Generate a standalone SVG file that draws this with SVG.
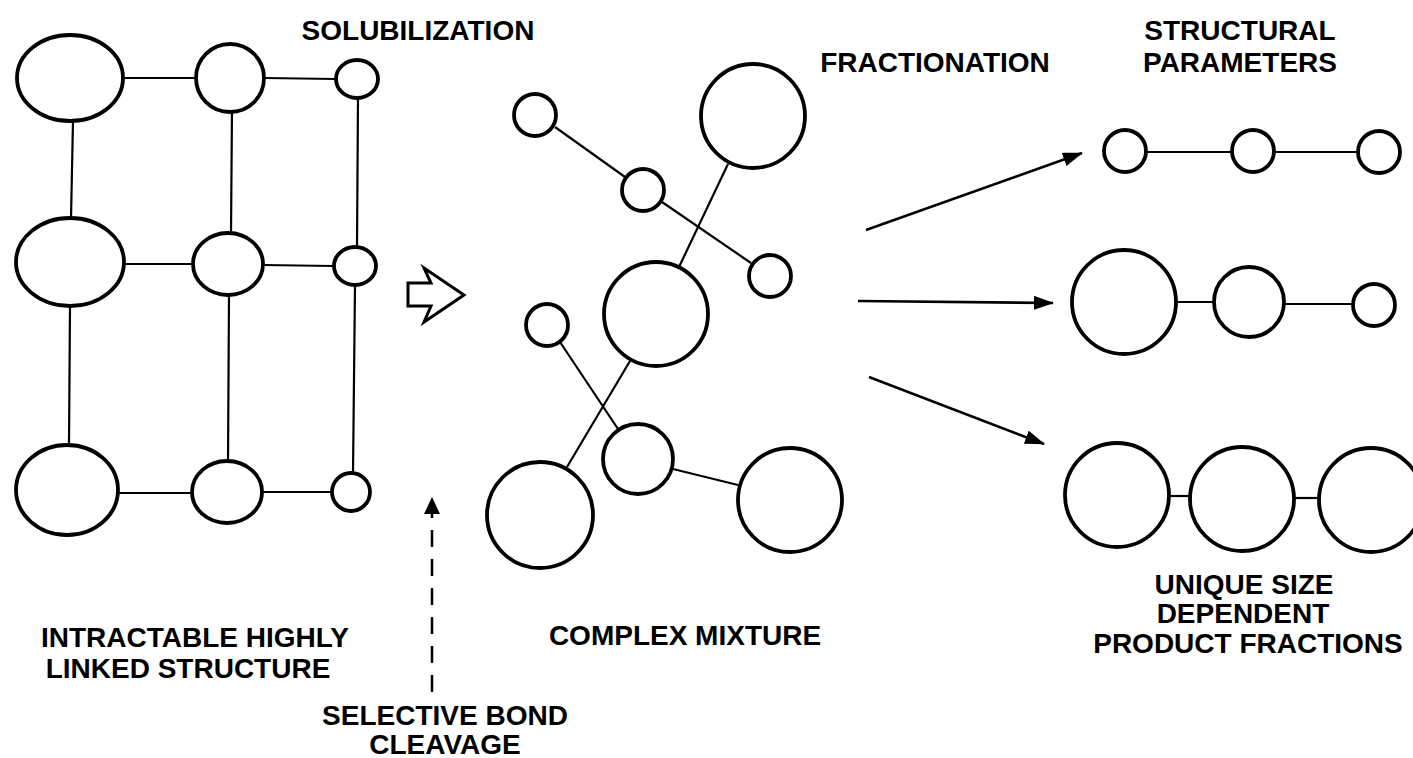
<svg xmlns="http://www.w3.org/2000/svg" width="1413" height="758" viewBox="0 0 1413 758">
  <style>
    .atom { fill: #fff; stroke: #000; stroke-width: 3.8; }
    .bond { stroke: #000; stroke-width: 2.2; fill: none; }
    .flow { stroke: #000; stroke-width: 2.6; fill: none; }
    .label { font-family: "Liberation Sans", Arial, sans-serif; font-weight: bold; font-size: 28px; fill: #000; text-anchor: middle; }
  </style>
  <defs>
    <marker id="head" viewBox="0 0 20 14" refX="19" refY="7" markerWidth="20" markerHeight="14" markerUnits="userSpaceOnUse" orient="auto">
      <path d="M0,0 L20,7 L0,14 Z" fill="#000"/>
    </marker>
  </defs>
  <rect width="1413" height="758" fill="#fff"/>

  <!-- bonds and process arrows -->
  <g id="connectors">
    <!-- linked network: rows -->
    <line class="bond" x1="123" y1="78" x2="195" y2="78"/>
    <line class="bond" x1="265" y1="78" x2="335" y2="79"/>
    <line class="bond" x1="124" y1="264" x2="193" y2="264"/>
    <line class="bond" x1="263" y1="265" x2="333" y2="266"/>
    <line class="bond" x1="118" y1="493" x2="192" y2="493"/>
    <line class="bond" x1="262" y1="492" x2="332" y2="492"/>
    <!-- linked network: columns -->
    <line class="bond" x1="73" y1="121" x2="71" y2="218"/>
    <line class="bond" x1="70" y1="306" x2="69" y2="445"/>
    <line class="bond" x1="232" y1="108" x2="231" y2="233"/>
    <line class="bond" x1="229" y1="295" x2="228" y2="462"/>
    <line class="bond" x1="358" y1="97" x2="357" y2="247"/>
    <line class="bond" x1="355" y1="285" x2="353" y2="473"/>

    <!-- mixture fragments -->
    <line class="bond" x1="555" y1="127" x2="625" y2="177"/>
    <line class="bond" x1="662" y1="202" x2="751" y2="263"/>
    <line class="bond" x1="728" y1="164" x2="679" y2="267"/>
    <line class="bond" x1="630" y1="361" x2="567" y2="467"/>
    <line class="bond" x1="560" y1="342" x2="618" y2="429"/>
    <line class="bond" x1="673" y1="469" x2="738" y2="485"/>

    <!-- product fractions -->
    <line class="bond" x1="1147" y1="152" x2="1232" y2="152"/>
    <line class="bond" x1="1274" y1="152" x2="1358" y2="152"/>
    <line class="bond" x1="1177" y1="302" x2="1214" y2="302"/>
    <line class="bond" x1="1284" y1="304" x2="1353" y2="304"/>
    <line class="bond" x1="1169" y1="496" x2="1190" y2="496"/>
    <line class="bond" x1="1294" y1="498" x2="1319" y2="498"/>

    <!-- fractionation arrows -->
    <line class="flow" x1="866" y1="230" x2="1082" y2="153" marker-end="url(#head)"/>
    <line class="flow" x1="858" y1="301" x2="1053" y2="303" marker-end="url(#head)"/>
    <line class="flow" x1="869" y1="377" x2="1044" y2="444" marker-end="url(#head)"/>

    <!-- solubilization arrow (hollow) -->
    <path d="M408,283 L431,283 L424,268 L464,295 L424,322 L431,306 L408,306 Z" fill="#fff" stroke="#000" stroke-width="3" stroke-linejoin="miter"/>

    <!-- selective bond cleavage pointer (dashed) -->
    <line x1="432" y1="692" x2="432" y2="512" stroke="#000" stroke-width="2.5" stroke-dasharray="17 12"/>
    <path d="M424,514 L432,497 L440,514 Z" fill="#000"/>
  </g>

  <!-- intractable highly linked structure -->
  <g id="network">
    <ellipse class="atom" cx="70" cy="78" rx="53" ry="43"/>
    <circle class="atom" cx="230" cy="78" r="34"/>
    <ellipse class="atom" cx="357" cy="79" rx="21" ry="19"/>
    <ellipse class="atom" cx="70" cy="262" rx="54" ry="44"/>
    <ellipse class="atom" cx="228" cy="264" rx="35" ry="31"/>
    <ellipse class="atom" cx="355" cy="266" rx="21" ry="19"/>
    <ellipse class="atom" cx="67" cy="490" rx="51" ry="45"/>
    <ellipse class="atom" cx="227" cy="492" rx="35" ry="31"/>
    <circle class="atom" cx="351" cy="492" r="19"/>
  </g>

  <!-- complex mixture -->
  <g id="mixture">
    <circle class="atom" cx="535" cy="115" r="21"/>
    <circle class="atom" cx="643" cy="190" r="21"/>
    <circle class="atom" cx="753" cy="116" r="52"/>
    <circle class="atom" cx="770" cy="276" r="21"/>
    <circle class="atom" cx="656" cy="314" r="52"/>
    <circle class="atom" cx="547" cy="325" r="21"/>
    <circle class="atom" cx="638" cy="459" r="35"/>
    <circle class="atom" cx="540" cy="515" r="53"/>
    <circle class="atom" cx="790" cy="500" r="52"/>
  </g>

  <!-- size dependent fractions -->
  <g id="fraction-small">
    <circle class="atom" cx="1125" cy="151" r="21"/>
    <circle class="atom" cx="1253" cy="151" r="21"/>
    <circle class="atom" cx="1379" cy="152" r="21"/>
  </g>
  <g id="fraction-mixed">
    <circle class="atom" cx="1124" cy="302" r="52"/>
    <circle class="atom" cx="1249" cy="302" r="35"/>
    <circle class="atom" cx="1374" cy="305" r="21"/>
  </g>
  <g id="fraction-large">
    <circle class="atom" cx="1117" cy="495" r="52"/>
    <circle class="atom" cx="1242" cy="499" r="52"/>
    <circle class="atom" cx="1371" cy="500" r="52"/>
  </g>

  <!-- labels -->
  <g id="labels">
    <text class="label" x="418" y="40">SOLUBILIZATION</text>
    <text class="label" x="935" y="72">FRACTIONATION</text>
    <text class="label" x="1240" y="40">STRUCTURAL</text>
    <text class="label" x="1240" y="72">PARAMETERS</text>
    <text class="label" x="195" y="647">INTRACTABLE HIGHLY</text>
    <text class="label" x="188" y="678">LINKED STRUCTURE</text>
    <text class="label" x="445" y="725">SELECTIVE BOND</text>
    <text class="label" x="445" y="754">CLEAVAGE</text>
    <text class="label" x="685" y="645">COMPLEX MIXTURE</text>
    <text class="label" x="1244" y="594">UNIQUE SIZE</text>
    <text class="label" x="1243" y="623">DEPENDENT</text>
    <text class="label" x="1248" y="653">PRODUCT FRACTIONS</text>
  </g>
</svg>
